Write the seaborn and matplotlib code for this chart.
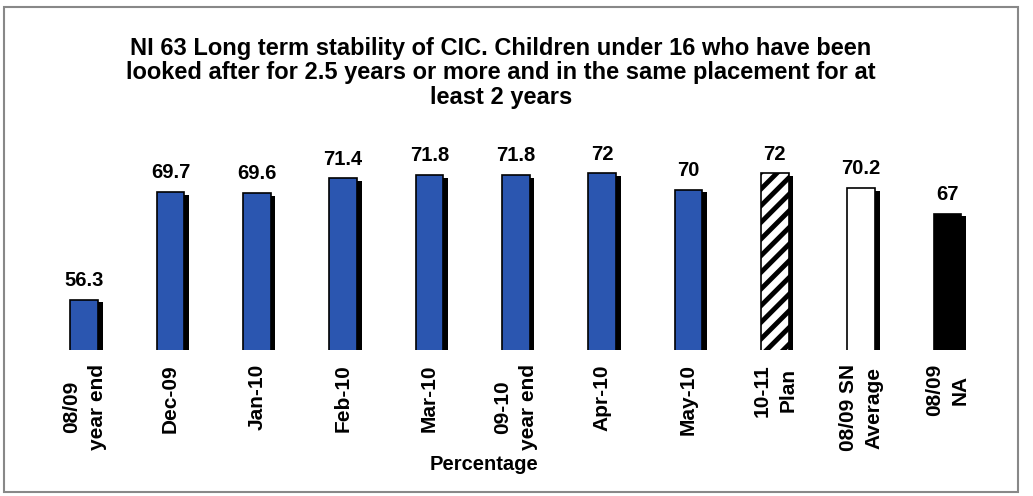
import matplotlib
matplotlib.use("Agg")
import matplotlib.pyplot as plt
import matplotlib.patheffects as pe
from matplotlib.patches import Rectangle
import seaborn as sns

categories = ["08/09\nyear end", "Dec-09", "Jan-10", "Feb-10", "Mar-10",
              "09-10\nyear end", "Apr-10", "May-10", "10-11\nPlan",
              "08/09 SN\nAverage", "08/09\nNA"]
values = [56.3, 69.7, 69.6, 71.4, 71.8, 71.8, 72, 70, 72, 70.2, 67]
bar_colors = ["#2b56b0"] * 8 + ["white", "white", "black"]
title = ("NI 63 Long term stability of CIC. Children under 16 who have been\n"
         "looked after for 2.5 years or more and in the same placement for at\n"
         "least 2 years")
xlabel = "Percentage"

sns.set_style("white")
plt.rcParams["font.family"] = ["Liberation Sans", "DejaVu Sans"]
plt.rcParams["font.weight"] = "bold"
plt.rcParams["text.color"] = "black"
plt.rcParams["xtick.color"] = "black"
plt.rcParams["hatch.linewidth"] = 3.5

fig = plt.figure(figsize=(10.33, 4.96), dpi=100)
ax = fig.add_axes([0.0397, 0.294, 0.9193, 0.421])

sns.barplot(x=categories, y=values, hue=categories, palette=bar_colors,
            legend=False, width=0.32, ax=ax, saturation=1)

shadow = [pe.SimplePatchShadow(offset=(3.4, -2), shadow_rgbFace="black", alpha=1.0),
          pe.Normal()]
for i, p in enumerate(ax.patches):
    p.set_edgecolor("black")
    p.set_linewidth(1.2)
    p.set_path_effects(shadow)
    if i == 8:
        p.set_hatch("//")

for c in ax.containers:
    ax.bar_label(c, fmt="{:g}", padding=7, fontsize=14.5, fontweight="bold",
                 color="black")

ax.set_ylim(50, 76)
ax.set_xlim(-0.5, len(categories) - 0.5)
ax.set_yticks([])
ax.set_ylabel("")
ax.set_xlabel("")
for s in ax.spines.values():
    s.set_visible(False)
ax.tick_params(axis="x", length=0, pad=10)
ax.set_xticks(range(len(categories)))
ax.set_xticklabels(categories, rotation=90, fontsize=15, fontweight="bold",
                   multialignment="center", color="black", linespacing=1.45)

fig.text(0.485, 1 - 73 / 496, title, ha="center", va="center", fontsize=17,
         fontweight="bold", linespacing=1.1, color="black")
fig.text(0.469, 1 - 465 / 496, xlabel, ha="center", va="center",
         fontsize=14.5, fontweight="bold", color="black")

fig.patches.append(Rectangle((4 / 1033, 1 - 492 / 496), 1014 / 1033, 485 / 496,
                             transform=fig.transFigure, fill=False,
                             edgecolor="#888888", linewidth=1.5))

fig.savefig("out.png", dpi=100)
